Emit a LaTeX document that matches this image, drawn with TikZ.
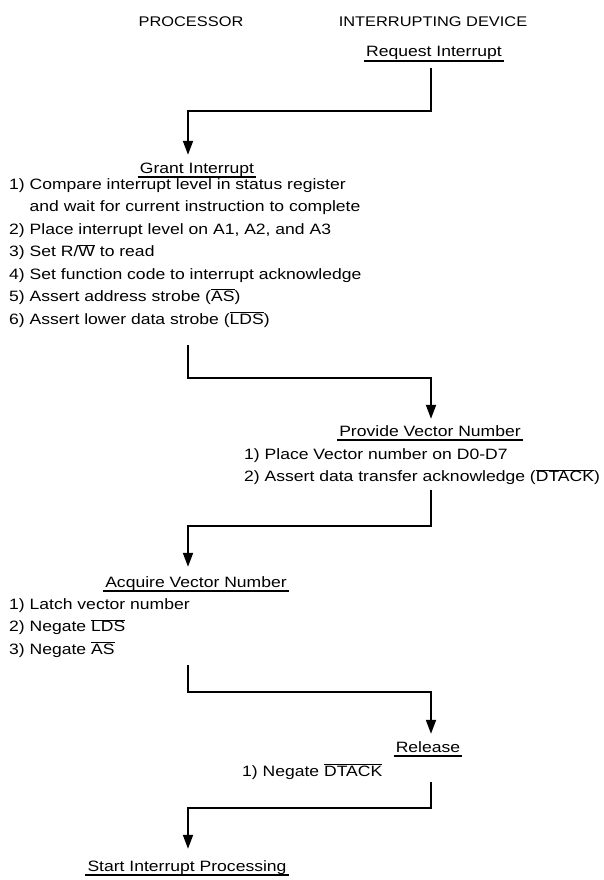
\documentclass[tikz,border=0pt]{standalone}
\usepackage{fontspec}
\setmainfont{Liberation Sans}[FakeStretch=1.17]
\usetikzlibrary{arrows.meta,calc}
\newcommand{\nsig}[1]{$\overline{\mbox{#1}}$}

\begin{document}
\begin{tikzpicture}[x=1pt, y=-1pt, >={Triangle[length=14pt,width=10pt]},
    lbl/.style={inner sep=0pt, font=\fontsize{15}{22.5}\selectfont},
    head/.style={lbl, font=\fontsize{14}{16}\selectfont, anchor=base},
    title/.style={lbl, text height=11pt, text depth=3pt, anchor=base},
    items/.style={lbl, anchor=north west, align=left},
    uline/.style={line width=1.5pt},
    flow/.style={->, line width=1.9pt}]
    \useasboundingbox (0,0) rectangle (603,880);
    % Columns
    \coordinate (pcol) at (188,0);
    \coordinate (dcol) at (431,0);

    % Nodes
    \node[head] (proc) at (191,27) {PROCESSOR};
    \node[head] (dev) at (433,27) {INTERRUPTING DEVICE};
    \node[title] (req) at (434,57) {Request Interrupt};
    \node[title] (grant) at (197,173) {Grant Interrupt};
    \node[items] (glist) at (9,178) {1) Compare interrupt level in status register\\
        \phantom{1) }and wait for current instruction to complete\\
        2) Place interrupt level on A1, A2, and A3\\
        3) Set R/\nsig{W} to read\\
        4) Set function code to interrupt acknowledge\\
        5) Assert address strobe (\nsig{AS})\\
        6) Assert lower data strobe (\nsig{LDS})};
    \node[title] (provide) at (430,436) {Provide Vector Number};
    \node[items] (plist) at (244,448) {1) Place Vector number on D0-D7\\
        2) Assert data transfer acknowledge (\nsig{DTACK})};
    \node[title] (acquire) at (196,587) {Acquire Vector Number};
    \node[items] (alist) at (9,598) {1) Latch vector number\\
        2) Negate \nsig{LDS}\\
        3) Negate \nsig{AS}};
    \node[title] (release) at (428,752) {Release};
    \node[lbl, anchor=base west] (rlist) at (242,776) {1) Negate \nsig{DTACK}};
    \node[title] (start) at (187,871) {Start Interrupt Processing};

    % Underlines
    \foreach \n in {req,grant,provide,acquire,release,start}
        \draw[uline] ([xshift=-2pt,yshift=-1pt]\n.south west) -- ([xshift=2pt,yshift=-1pt]\n.south east);

    % Arrows
    \draw[flow] ($(req.south -| dcol)+(0,8)$) -- ++(0,43) -| ($(grant.north -| pcol)+(0,-7)$);
    \draw[flow] ($(glist.south -| pcol)+(0,18)$) -- ++(0,33) -| ($(provide.north -| dcol)+(0,-6)$);
    \draw[flow] ($(plist.south -| dcol)+(0,5)$) -- ++(0,36) -| ($(acquire.north -| pcol)+(0,-9)$);
    \draw[flow] ($(alist.south -| pcol)+(0,8)$) -- ++(0,27) -| ($(release.north -| dcol)+(0,-7)$);
    \draw[flow] ($(rlist.south -| dcol)+(0,3)$) -- ++(0,26) -| ($(start.north -| pcol)+(0,-11)$);
\end{tikzpicture}
\end{document}
